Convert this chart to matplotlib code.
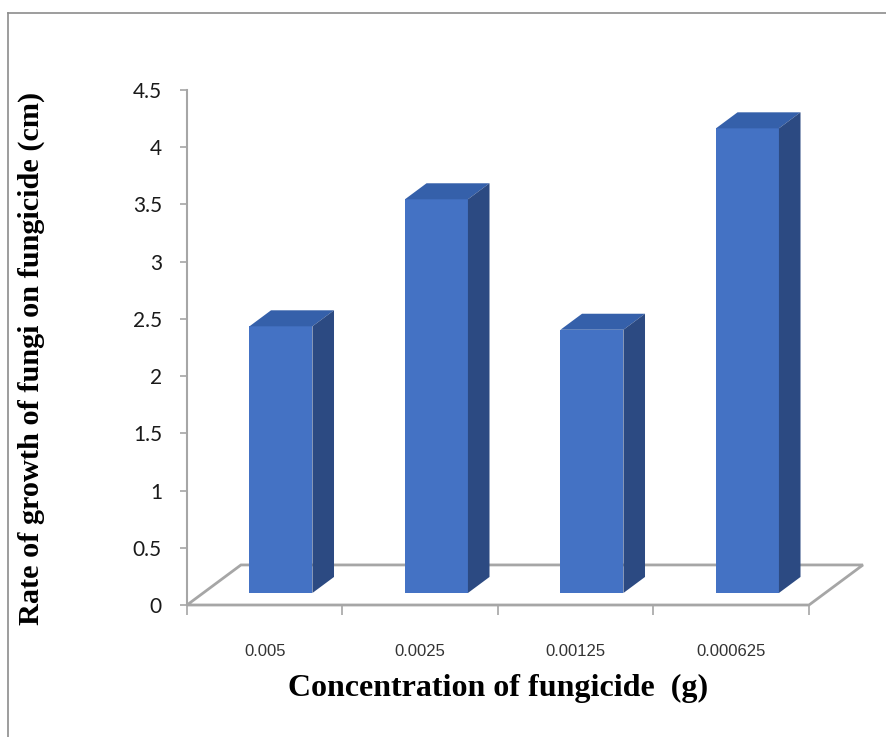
import numpy as np
import matplotlib
matplotlib.use("Agg")
from matplotlib import pyplot as plt
from matplotlib.patches import Polygon
from matplotlib.lines import Line2D
from matplotlib.ticker import FuncFormatter, MultipleLocator

# growth of fungi at each fungicide concentration
concentrations = ["0.005", "0.0025", "0.00125", "0.000625"]
growth_cm = [2.33, 3.44, 2.30, 4.06]

front_col = "#4472C4"
top_col = "#3560AA"
side_col = "#2C4A82"
grid_col = "#A6A6A6"

# oblique depth of the floor, in data units
depth_x = 0.347
depth_y = 0.35
bar_front = 0.30   # depth fraction where the bar front sits
bar_back = 0.70
bar_w = 0.405

fig = plt.figure(figsize=(8.87, 7.37), dpi=100)
W, H = 887, 737
ax_left, ax_right = 187, 863
ax_top, ax_bottom = 90, 605
ax = fig.add_axes([ax_left / W, 1 - ax_bottom / H,
                   (ax_right - ax_left) / W, (ax_bottom - ax_top) / H])

x = np.arange(len(concentrations))
ax.set_xlim(-0.5, -0.5 + (ax_right - ax_left) / 155.5)
ax.set_ylim(0, 4.5)

# floor
floor = Polygon([(-0.5, 0), (3.5, 0), (3.5 + depth_x, depth_y),
                 (-0.5 + depth_x, depth_y)], closed=True, fill=False,
                edgecolor=grid_col, lw=2, clip_on=False, zorder=1)
ax.add_patch(floor)

# bar fronts, then top and side faces for the 3D look
sx = bar_front * depth_x
sy = bar_front * depth_y
ddx = (bar_back - bar_front) * depth_x
ddy = (bar_back - bar_front) * depth_y
ax.bar(x + sx - bar_w / 2, growth_cm, width=bar_w, bottom=sy, align="edge",
       color=front_col, edgecolor="none", zorder=3)
for xi, v in zip(x, growth_cm):
    x0 = xi + sx - bar_w / 2
    x1 = x0 + bar_w
    y0 = sy
    y1 = sy + v
    top = Polygon([(x0, y1), (x1, y1), (x1 + ddx, y1 + ddy), (x0 + ddx, y1 + ddy)],
                  closed=True, facecolor=top_col, edgecolor="none", zorder=3)
    side = Polygon([(x1, y0), (x1 + ddx, y0 + ddy), (x1 + ddx, y1 + ddy), (x1, y1)],
                   closed=True, facecolor=side_col, edgecolor="none", zorder=3)
    ax.add_patch(top)
    ax.add_patch(side)

for s in ["top", "right", "bottom"]:
    ax.spines[s].set_visible(False)
ax.spines["left"].set_color(grid_col)
ax.spines["left"].set_linewidth(1.5)

ax.yaxis.set_major_locator(MultipleLocator(0.5))
ax.yaxis.set_major_formatter(FuncFormatter(lambda v, p: "%g" % v))
ax.tick_params(axis="y", direction="out", length=5, width=1.2, color=grid_col,
               pad=13, labelsize=15, labelcolor="#1a1a1a")
for lab in ax.get_yticklabels():
    lab.set_family("Lato")

ax.set_xticks(x)
ax.set_xticklabels(concentrations, family=["Liberation Sans Narrow", "Liberation Sans"],
                   fontsize=12, color="#333333")
ax.set_xticks(np.arange(-0.5, 4, 1), minor=True)
ax.tick_params(axis="x", which="major", length=0, pad=28)
ax.tick_params(axis="x", which="minor", direction="out", length=7, width=1.2,
               color=grid_col)

fig.text(31 / W, 1 - 358 / H, "Rate of growth of fungi on fungicide (cm)",
         rotation=90, ha="center", va="center", family="Liberation Serif",
         weight="bold", fontsize=21.8)
fig.text(498 / W, 1 - 688 / H, "Concentration of fungicide  (g)",
         ha="center", va="center", family="Liberation Serif",
         weight="bold", fontsize=23)

# chart area border
fig.add_artist(Line2D([8 / W, 8 / W], [0, 1 - 13 / H], color="#8C8C8C", lw=1.2))
fig.add_artist(Line2D([8 / W, 1], [1 - 13 / H, 1 - 13 / H], color="#8C8C8C", lw=1.2))

fig.savefig("out.png", dpi=100, facecolor="white")
